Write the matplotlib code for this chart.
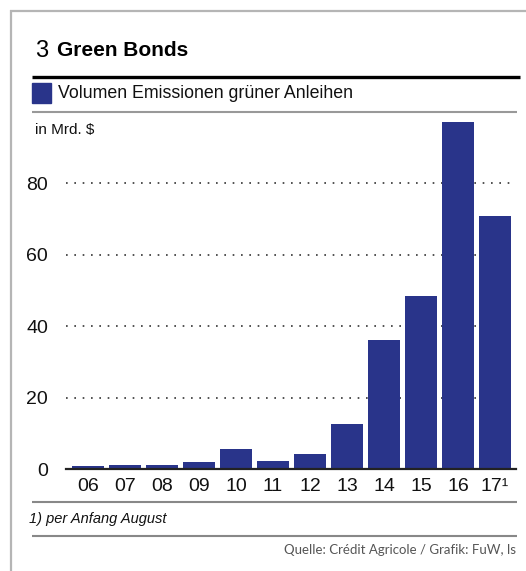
import matplotlib
matplotlib.use("Agg")
import matplotlib.pyplot as plt
from matplotlib import font_manager
from matplotlib.lines import Line2D

# ---- data ----
years = ["06", "07", "08", "09", "10", "11", "12", "13", "14", "15", "16", "17\u00b9"]
volumes = [0.9, 1.3, 1.3, 2.0, 5.6, 2.2, 4.2, 12.7, 36.1, 48.5, 97.2, 70.8]
yticks = [0, 20, 40, 60, 80]
title_num = "3"
title = "Green Bonds"
legend_label = "Volumen Emissionen grüner Anleihen"
unit_label = "in Mrd. $"
footnote = "1) per Anfang August"
source = "Quelle: Crédit Agricole / Grafik: FuW, ls"

BAR = "#29348a"
W, H = 526, 571

names = {f.name for f in font_manager.fontManager.ttflist}
if "Liberation Sans Narrow" in names:
    MAIN = "Liberation Sans Narrow"
elif "Liberation Sans" in names:
    MAIN = "Liberation Sans"
else:
    MAIN = "DejaVu Sans"
SRC_FAMILY = "Lato" if "Lato" in names else "DejaVu Sans"

fig = plt.figure(figsize=(W / 100, H / 100), dpi=100)


def fx(px):
    return px / W


def fy(py):
    return 1 - py / H


def hline(x0, x1, y, color, lw):
    fig.add_artist(Line2D([fx(x0), fx(x1)], [fy(y), fy(y)], color=color,
                          linewidth=lw, transform=fig.transFigure,
                          solid_capstyle="butt"))


def vline(x, y0, y1, color, lw):
    fig.add_artist(Line2D([fx(x), fx(x)], [fy(y0), fy(y1)], color=color,
                          linewidth=lw, transform=fig.transFigure,
                          solid_capstyle="butt"))


# frame
hline(10, W, 10.5, "#b5b5b5", 1.6)
vline(10.5, 10, H, "#b5b5b5", 1.6)

# header
fig.text(fx(35), fy(51), title_num, fontsize=17, va="center", ha="left",
         color="black", family=MAIN)
fig.text(fx(57), fy(51), title, fontsize=15, fontweight="bold", va="center",
         ha="left", color="black", family=MAIN)
hline(32, 520, 76.5, "black", 2.4)

# legend
fig.patches.append(plt.Rectangle((fx(32), fy(103)), fx(19), 20 / H,
                                 transform=fig.transFigure, color=BAR))
fig.text(fx(58), fy(94), legend_label, fontsize=12.8, va="center", ha="left",
         color="#111111", family=MAIN)
hline(32, 517, 112, "#999999", 1.5)

fig.text(fx(35), fy(130), unit_label, fontsize=11, va="center", ha="left",
         color="#111111", family=MAIN)

# axes
left, right, bottom_px, top_px = 66, 516, 469.3, 115
ax = fig.add_axes([fx(left), fy(bottom_px), fx(right - left),
                   (bottom_px - top_px) / H])
x = list(range(len(years)))
ax.bar(x, volumes, width=0.85, color=BAR, zorder=3)
ax.set_ylim(0, (bottom_px - top_px) / 3.575)
ax.set_xlim(-0.6, 11.57)
ax.set_yticks(yticks)
ax.set_yticklabels([str(v) for v in yticks])
ax.set_xticks(x)
ax.set_xticklabels(years)
for lab in ax.get_xticklabels() + ax.get_yticklabels():
    lab.set_fontsize(14)
    lab.set_color("#111111")
    lab.set_fontfamily(MAIN)
ax.tick_params(axis="both", length=0)
ax.tick_params(axis="y", pad=13)
ax.tick_params(axis="x", pad=6)
for s in ["top", "right", "left"]:
    ax.spines[s].set_visible(False)
ax.spines["bottom"].set_linewidth(1.6)
ax.spines["bottom"].set_color("#222222")
ax.spines["bottom"].set_zorder(4)
ax.yaxis.grid(True, linestyle=(0, (1, 4)), linewidth=1.2, color="#333333")
ax.set_axisbelow(True)
ax.patch.set_alpha(0)

# footer
hline(32, 517, 501.5, "#888888", 1.5)
fig.text(fx(29), fy(519), footnote, fontsize=10.5, style="italic", va="center",
         ha="left", color="#111111", family=MAIN)
hline(32, 517, 535.5, "#888888", 1.5)
fig.text(fx(516), fy(550), source, fontsize=9.5, va="center", ha="right",
         color="#555555", family=SRC_FAMILY)

fig.savefig("out.png", dpi=100)
